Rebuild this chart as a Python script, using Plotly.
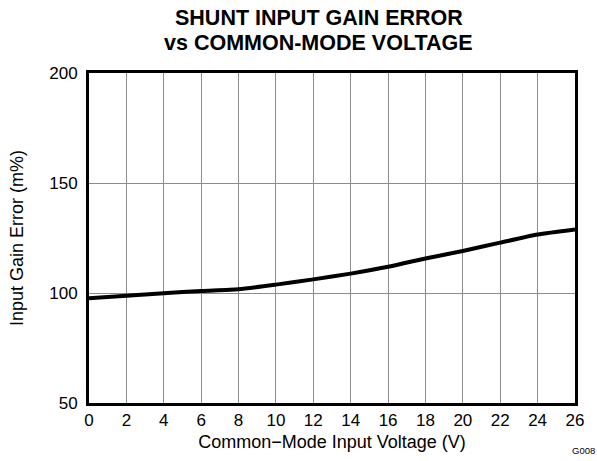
import plotly.graph_objects as go

# Common-mode voltage (V) and gain error (m%)
voltage = [0, 2, 4, 6, 8, 10, 12, 14, 16, 18, 20, 22, 24, 26]
gain_error = [97.6, 98.8, 99.9, 100.9, 101.7, 103.8, 106.2, 108.8, 111.9, 115.7, 119.1, 122.9, 126.6, 128.9]

x_ticks = list(range(0, 27, 2))
y_ticks = [50, 100, 150, 200]

title_lines = ["SHUNT INPUT GAIN ERROR", "vs COMMON-MODE VOLTAGE"]

font = "Liberation Sans, Arial, sans-serif"

fig = go.Figure()
fig.add_trace(go.Scatter(
    x=voltage, y=gain_error, mode="lines",
    line=dict(color="black", width=4, shape="spline", smoothing=0.6),
    showlegend=False,
))

fig.update_layout(
    width=597, height=461,
    margin=dict(l=89, r=22, t=73, b=58),
    paper_bgcolor="white", plot_bgcolor="white",
    font=dict(family=font, size=14, color="black"),
)

# title: two separate annotations, tighter line spacing than plotly's <br>
for line, ypos in zip(title_lines, [1.1665, 1.0924]):
    fig.add_annotation(
        text="<b>" + line + "</b>",
        xref="paper", yref="paper", x=0.473, y=ypos,
        xanchor="center", yanchor="middle", showarrow=False,
        font=dict(size=21.5, family=font),
    )

fig.update_xaxes(
    range=[0, 26], tickvals=x_ticks, ticks="", ticklen=0,
    showgrid=True, gridcolor="#8c8c8c", gridwidth=1,
    showline=True, linecolor="black", linewidth=3, mirror=True,
    zeroline=False,
    title=dict(text="Common\u2212Mode Input Voltage (V)", standoff=6, font=dict(size=18)),
    tickfont=dict(size=17),
)
fig.update_yaxes(
    range=[50, 200], tickvals=y_ticks, ticks="",
    showgrid=True, gridcolor="#8c8c8c", gridwidth=1,
    showline=True, linecolor="black", linewidth=3, mirror=True,
    zeroline=False, ticklabelstandoff=5,
    title=dict(text="Input Gain Error (m%)", standoff=21, font=dict(size=18)),
    tickfont=dict(size=17),
)

# figure code, bottom right corner
fig.add_annotation(
    text="G008", xref="paper", yref="paper", x=1.0, y=-0.145,
    xanchor="left", yanchor="middle", xshift=-5, showarrow=False,
    font=dict(size=9.5, family=font),
)

fig.write_html("out.html", config={"displayModeBar": False},
               post_script="document.body.style.margin='0';")
